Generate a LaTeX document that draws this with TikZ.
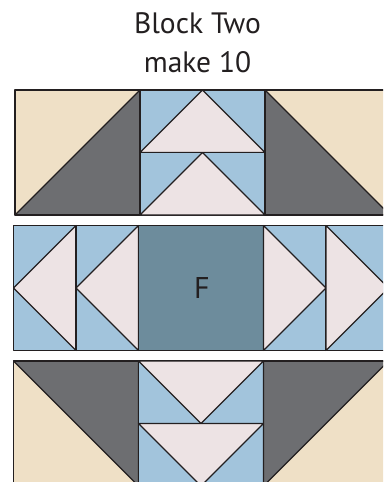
\documentclass[tikz,border=0pt]{standalone}
\usepackage{fontspec}
\setmainfont{PT Sans}
\definecolor{quiltTan}{HTML}{EFE0C6}
\definecolor{quiltGray}{HTML}{6D6E71}
\definecolor{quiltBlue}{HTML}{A2C4DC}
\definecolor{quiltPink}{HTML}{EDE3E4}
\definecolor{quiltTeal}{HTML}{6D8C9C}
\definecolor{quiltLine}{HTML}{231F20}
\begin{document}
\begin{tikzpicture}[x=1pt, y=-1pt,
  patch/.style={draw=quiltLine, line width=1.1pt, line join=round},
  tanpatch/.style={patch, fill=quiltTan},
  graypatch/.style={patch, fill=quiltGray},
  bluepatch/.style={patch, fill=quiltBlue},
  pinkpatch/.style={patch, fill=quiltPink},
  title/.style={font=\fontsize{29.5}{34}\selectfont, text=quiltLine, anchor=base, inner sep=0pt}
]
\useasboundingbox (0,0) rectangle (383,482);
\clip (0,0) rectangle (383,482);

% title
\node[title] (titleA) at (197.5,33) {Block Two};
\node[title] (titleB) at (197.5,72) {make 10};

% top row
\fill[quiltTan] (15,90) rectangle (140,215);
\draw[graypatch] (140,90) -- (140,215) -- (15,215) -- cycle;
\draw[patch] (15,90) rectangle (140,215);
\foreach \t in {90,152.5} {
  \draw[bluepatch] (140,\t) rectangle (265,\t+62.5);
  \draw[pinkpatch] (140,\t+62.5) -- (202.5,\t) -- (265,\t+62.5) -- cycle;
}
\fill[quiltTan] (265,90) rectangle (390,215);
\draw[graypatch] (265,90) -- (390,215) -- (265,215) -- cycle;
\draw[patch] (265,90) rectangle (390,215);

% middle row
\foreach \l in {13.5,76} {
  \draw[bluepatch] (\l,225.5) rectangle (\l+62.5,350.5);
  \draw[pinkpatch] (\l,288) -- (\l+62.5,225.5) -- (\l+62.5,350.5) -- cycle;
}
\draw[patch, fill=quiltTeal] (138.5,225.5) rectangle (263.5,350.5);
\node[font=\fontsize{30}{34}\selectfont, text=quiltLine] (centerF) at (202,288) {F};
\foreach \l in {263.5,326} {
  \draw[bluepatch] (\l,225.5) rectangle (\l+62.5,350.5);
  \draw[pinkpatch] (\l,225.5) -- (\l+62.5,288) -- (\l,350.5) -- cycle;
}

% bottom row
\fill[quiltTan] (13.5,361) rectangle (138.5,486);
\draw[graypatch] (13.5,361) -- (138.5,361) -- (138.5,486) -- cycle;
\draw[patch] (13.5,361) rectangle (138.5,486);
\foreach \t in {361,423.5} {
  \draw[bluepatch] (138.5,\t) rectangle (263.5,\t+62.5);
  \draw[pinkpatch] (138.5,\t) -- (263.5,\t) -- (201,\t+62.5) -- cycle;
}
\fill[quiltTan] (263.5,361) rectangle (388.5,486);
\draw[graypatch] (263.5,361) -- (388.5,361) -- (263.5,486) -- cycle;
\draw[patch] (263.5,361) rectangle (388.5,486);
\end{tikzpicture}
\end{document}
